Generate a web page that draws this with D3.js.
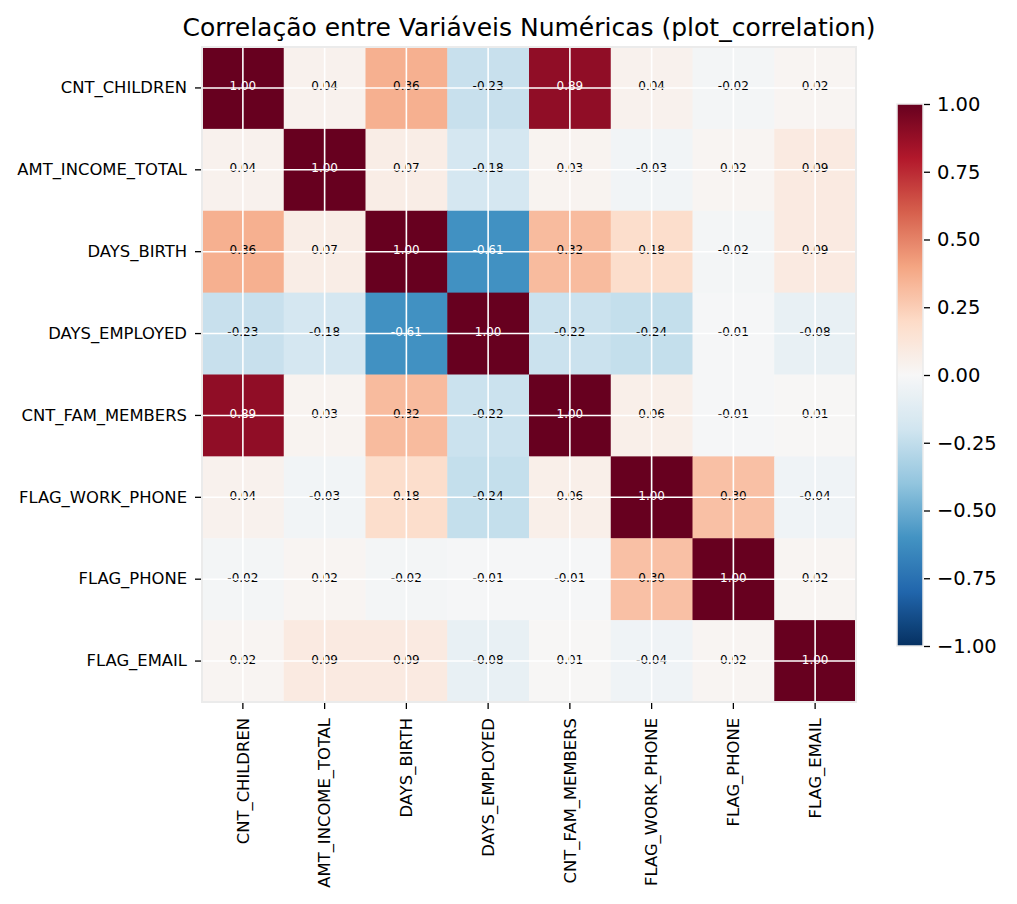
<!DOCTYPE html>
<html>
<head>
<meta charset="utf-8">
<script src="https://cdn.jsdelivr.net/npm/d3@7"></script>
<style>
  body { margin: 0; background: #fff; }
  text { font-family: "DejaVu Sans", sans-serif; }
</style>
</head>
<body>
<svg id="chart"></svg>
<script>
const WIDTH = 1017;
const HEIGHT = 904;
const PLOT = { left: 202, top: 47, right: 856, bottom: 702 };
const CBAR = { left: 897, right: 923, top: 104, bottom: 646 };

const variables = ["CNT_CHILDREN", "AMT_INCOME_TOTAL", "DAYS_BIRTH", "DAYS_EMPLOYED",
  "CNT_FAM_MEMBERS", "FLAG_WORK_PHONE", "FLAG_PHONE", "FLAG_EMAIL"];

// correlation matrix, one row per variable
const corrValues = [
  [1.00, 0.04, 0.36, -0.23, 0.89, 0.04, -0.02, 0.02],
  [0.04, 1.00, 0.07, -0.18, 0.03, -0.03, 0.02, 0.09],
  [0.36, 0.07, 1.00, -0.61, 0.32, 0.18, -0.02, 0.09],
  [-0.23, -0.18, -0.61, 1.00, -0.22, -0.24, -0.01, -0.08],
  [0.89, 0.03, 0.32, -0.22, 1.00, 0.06, -0.01, 0.01],
  [0.04, -0.03, 0.18, -0.24, 0.06, 1.00, 0.30, -0.04],
  [-0.02, 0.02, -0.02, -0.01, -0.01, 0.30, 1.00, 0.02],
  [0.02, 0.09, 0.09, -0.08, 0.01, -0.04, 0.02, 1.00]
];

const colorbarTicks = [-1, -0.75, -0.5, -0.25, 0, 0.25, 0.5, 0.75, 1];

const svg = d3.select("#chart")
  .attr("width", WIDTH)
  .attr("height", HEIGHT);

// RdBu_r, linear between the 11 brewer colours like matplotlib
const rdbu = d3.schemeRdBu[11].slice().reverse();
const color = d3.scaleLinear()
  .domain(d3.range(11).map(i => -1 + i * 0.2))
  .range(rdbu)
  .clamp(true);

const x = d3.scaleBand().domain(variables).range([PLOT.left, PLOT.right]);
const y = d3.scaleBand().domain(variables).range([PLOT.top, PLOT.bottom]);

const cells = [];
corrValues.forEach((row, i) => {
  row.forEach((v, j) => cells.push({ row: variables[i], col: variables[j], value: v }));
});

svg.append("g")
  .selectAll("rect")
  .data(cells)
  .enter()
  .append("rect")
  .attr("x", d => x(d.col))
  .attr("y", d => y(d.row))
  .attr("width", x.bandwidth() + 0.5)
  .attr("height", y.bandwidth() + 0.5)
  .attr("fill", d => color(d.value));

svg.append("g")
  .selectAll("text")
  .data(cells)
  .enter()
  .append("text")
  .attr("x", d => x(d.col) + x.bandwidth() / 2)
  .attr("y", d => y(d.row) + y.bandwidth() / 2 - 1.5)
  .attr("text-anchor", "middle")
  .attr("dominant-baseline", "central")
  .attr("font-size", 12)
  .attr("fill", d => Math.abs(d.value) > 0.5 ? "#fff" : "#000")
  .text(d => d.value.toFixed(2));

// white grid at the tick positions
const grid = svg.append("g").attr("stroke", "#fff").attr("stroke-width", 1.6);
variables.forEach(v => {
  grid.append("line")
    .attr("x1", x(v) + x.bandwidth() / 2).attr("x2", x(v) + x.bandwidth() / 2)
    .attr("y1", PLOT.top).attr("y2", PLOT.bottom);
  grid.append("line")
    .attr("y1", y(v) + y.bandwidth() / 2).attr("y2", y(v) + y.bandwidth() / 2)
    .attr("x1", PLOT.left).attr("x2", PLOT.right);
});

svg.append("rect")
  .attr("x", PLOT.left).attr("y", PLOT.top)
  .attr("width", PLOT.right - PLOT.left).attr("height", PLOT.bottom - PLOT.top)
  .attr("fill", "none").attr("stroke", "#ebebeb").attr("stroke-width", 2);

// axes
const yAxis = d3.axisLeft(y).tickSize(6).tickPadding(8);
const yg = svg.append("g")
  .attr("transform", `translate(${PLOT.left - 1},0)`)
  .call(yAxis);
yg.select(".domain").remove();
yg.selectAll("text").attr("font-size", 16.4).attr("font-family", "DejaVu Sans").attr("fill", "#000");
yg.selectAll("line").attr("stroke", "#000").attr("stroke-width", 1.3);

const xAxis = d3.axisBottom(x).tickSize(6).tickPadding(8);
const xg = svg.append("g")
  .attr("transform", `translate(0,${PLOT.bottom + 1})`)
  .call(xAxis);
xg.select(".domain").remove();
xg.selectAll("line").attr("stroke", "#000").attr("stroke-width", 1.3);
xg.selectAll("text")
  .attr("font-size", 16.4).attr("font-family", "DejaVu Sans").attr("fill", "#000")
  .attr("transform", "rotate(-90)")
  .attr("text-anchor", "end")
  .attr("dy", "0.35em")
  .attr("x", -15)
  .attr("y", 0);

// colorbar
const cscale = d3.scaleLinear().domain([-1, 1]).range([CBAR.bottom, CBAR.top]);
const grad = svg.append("defs").append("linearGradient")
  .attr("id", "cbar-grad")
  .attr("x1", "0").attr("y1", "1").attr("x2", "0").attr("y2", "0");
d3.range(0, 1.0001, 0.02).forEach(t => {
  grad.append("stop")
    .attr("offset", t)
    .attr("stop-color", color(-1 + 2 * t));
});
svg.append("rect")
  .attr("x", CBAR.left).attr("y", CBAR.top)
  .attr("width", CBAR.right - CBAR.left).attr("height", CBAR.bottom - CBAR.top)
  .attr("fill", "url(#cbar-grad)")
  .attr("stroke", "#ebebeb").attr("stroke-width", 1.5);

const cAxis = d3.axisRight(cscale)
  .tickValues(colorbarTicks)
  .tickSize(6).tickPadding(7)
  .tickFormat(d => d3.format(".2f")(d).replace("-", "\u2212"));
const cg = svg.append("g")
  .attr("transform", `translate(${CBAR.right + 1},0)`)
  .call(cAxis);
cg.select(".domain").remove();
cg.selectAll("line").attr("stroke", "#000").attr("stroke-width", 1.3);
cg.selectAll("text").attr("font-size", 19.5).attr("font-family", "DejaVu Sans").attr("fill", "#000");

svg.append("text")
  .attr("x", (PLOT.left + PLOT.right) / 2)
  .attr("y", 36)
  .attr("text-anchor", "middle")
  .attr("font-size", 25)
  .attr("fill", "#000")
  .text("Correlação entre Variáveis Numéricas (plot_correlation)");
</script>
</body>
</html>
